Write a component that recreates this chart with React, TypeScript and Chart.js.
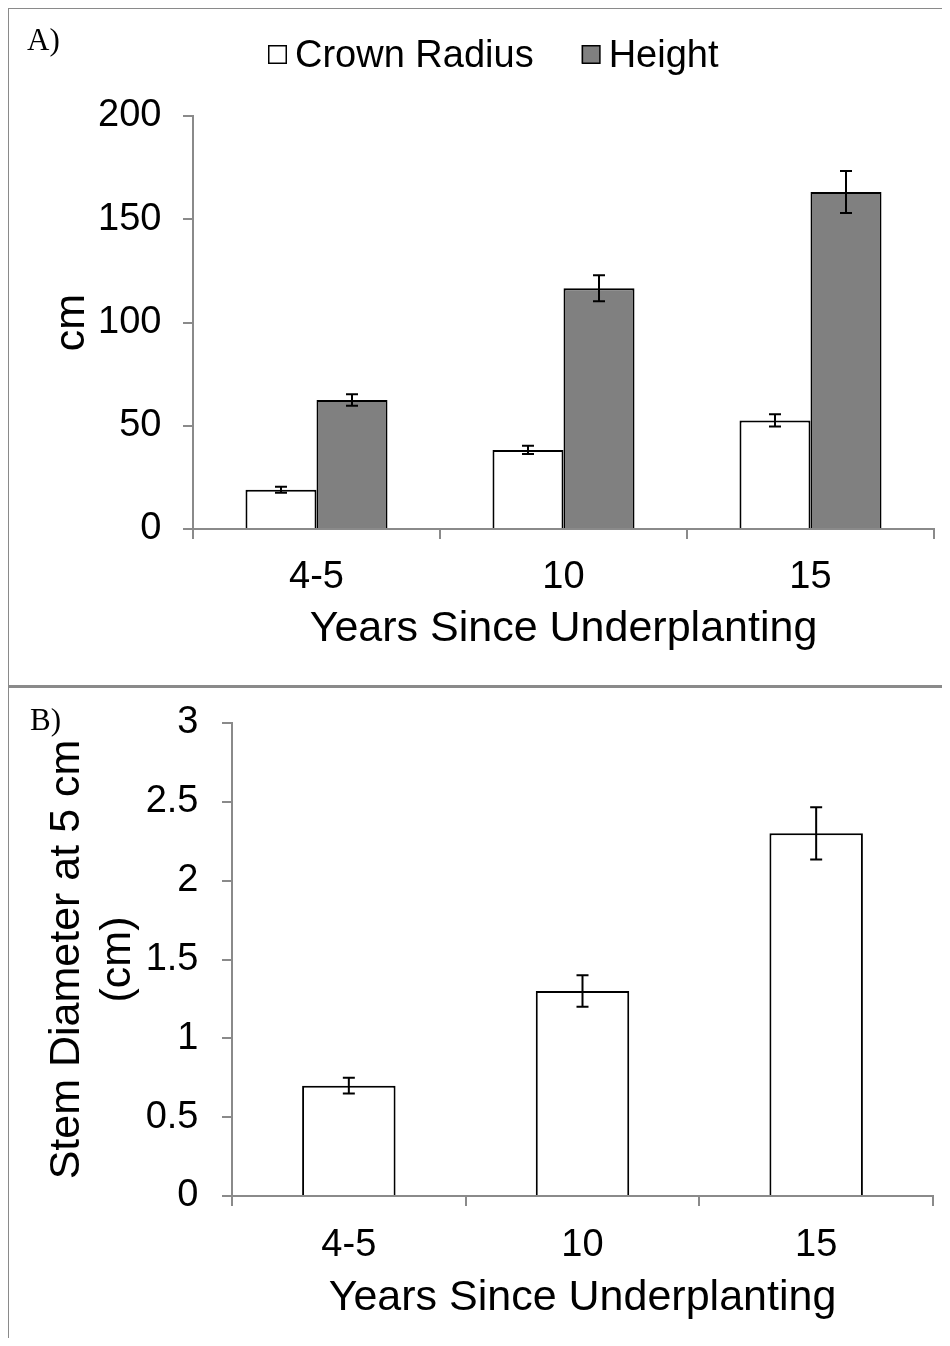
import { useEffect, useRef } from "react";
import { Chart, registerables } from "chart.js";

Chart.register(...registerables);

// Panel A: crown radius and height (cm) by years since underplanting
const YEARS = ["4-5", "10", "15"];
const CROWN_RADIUS = [19, 38.3, 52.6];
const CROWN_RADIUS_SE = [1.5, 2.0, 3.0];
const HEIGHT = [62.5, 116.6, 163.2];
const HEIGHT_SE = [2.8, 6.3, 10.2];
const CM_TICKS = [0, 50, 100, 150, 200];

// Panel B: stem diameter at 5 cm (cm)
const STEM_DIAMETER = [0.7, 1.3, 2.3];
const STEM_DIAMETER_SE = [0.05, 0.1, 0.165];
const DIAMETER_TICKS = [0, 0.5, 1, 1.5, 2, 2.5, 3];

const SANS = "'Liberation Sans', Arial, sans-serif";
const SERIF = "'Liberation Serif', 'Times New Roman', serif";
const AXIS_GREY = "#8a8a8a";
const BAR_GREY = "#808080";
const TICK_FONT = { family: SANS, size: 38 };
const TITLE_FONT = { family: SANS, size: 43 };

// Whiskers of +/- one standard error on every bar
const errorBars = {
  id: "errorBars",
  afterDatasetsDraw(chart: any) {
    const { ctx } = chart;
    const yScale = chart.scales.y;
    chart.data.datasets.forEach((ds: any, di: number) => {
      const meta = chart.getDatasetMeta(di);
      if (!ds.errors || meta.hidden) return;
      meta.data.forEach((bar: any, i: number) => {
        const v = ds.data[i];
        const e = ds.errors[i];
        const top = yScale.getPixelForValue(v + e);
        const bot = yScale.getPixelForValue(v - e);
        ctx.save();
        ctx.strokeStyle = "#000";
        ctx.lineWidth = 2;
        ctx.beginPath();
        ctx.moveTo(bar.x, top);
        ctx.lineTo(bar.x, bot);
        ctx.moveTo(bar.x - 6, top);
        ctx.lineTo(bar.x + 6, top);
        ctx.moveTo(bar.x - 6, bot);
        ctx.lineTo(bar.x + 6, bot);
        ctx.stroke();
        ctx.restore();
      });
    });
  },
};

// Compact legend of square swatches above the plot
const boxLegend = {
  id: "boxLegend",
  afterDraw(chart: any, _args: any, opts: any) {
    if (!opts || opts.x === undefined) return;
    const { ctx } = chart;
    let x = opts.x;
    ctx.save();
    ctx.font = `${TICK_FONT.size}px ${SANS}`;
    ctx.textBaseline = "alphabetic";
    ctx.textAlign = "left";
    chart.data.datasets.forEach((ds: any) => {
      ctx.fillStyle = ds.backgroundColor;
      ctx.fillRect(x, opts.boxTop, 18, 18);
      ctx.strokeStyle = "#000";
      ctx.lineWidth = 1.5;
      ctx.strokeRect(x + 0.75, opts.boxTop + 0.75, 17.5, 17.5);
      ctx.fillStyle = "#000";
      ctx.fillText(ds.label, x + 27, opts.baseline);
      x += 27 + ctx.measureText(ds.label).width + 48;
    });
    ctx.restore();
  },
};

function noAutoPadding(s: any) {
  s.paddingTop = 0;
  s.paddingBottom = 0;
  s.paddingLeft = 0;
  s.paddingRight = 0;
}

function xAxis(height: number, tickPad: number, titlePad: number) {
  return {
    grid: { offset: true, drawOnChartArea: false, drawTicks: true, tickLength: 10, color: AXIS_GREY, lineWidth: 2 },
    border: { display: true, color: AXIS_GREY, width: 2 },
    ticks: { font: TICK_FONT, color: "#000", padding: tickPad, maxRotation: 0 },
    title: {
      display: true,
      text: "Years Since Underplanting",
      font: TITLE_FONT,
      color: "#000",
      padding: { top: 0, bottom: titlePad },
    },
    afterFit: (s: any) => {
      s.height = height;
      noAutoPadding(s);
    },
  };
}

function yAxis(
  min: number,
  max: number,
  values: number[],
  width: number,
  tickPad: number,
  title: string | string[],
  titlePad: number
) {
  return {
    min,
    max,
    afterBuildTicks: (s: any) => {
      s.ticks = values.map((value) => ({ value }));
    },
    grid: { drawOnChartArea: false, drawTicks: true, tickLength: 10, color: AXIS_GREY, lineWidth: 2 },
    border: { display: true, color: AXIS_GREY, width: 2 },
    ticks: {
      font: TICK_FONT,
      color: "#000",
      padding: tickPad,
      callback: (value: number) => String(value),
    },
    title: {
      display: true,
      text: title,
      font: TITLE_FONT,
      color: "#000",
      padding: { top: titlePad, bottom: 0 },
    },
    afterFit: (s: any) => {
      s.width = width;
      noAutoPadding(s);
    },
  };
}

export default function App() {
  const refA = useRef<HTMLCanvasElement>(null);
  const refB = useRef<HTMLCanvasElement>(null);

  useEffect(() => {
    document.documentElement.style.overflow = "hidden";
    const chartA = new Chart(refA.current as HTMLCanvasElement, {
      type: "bar",
      data: {
        labels: YEARS,
        datasets: [
          {
            label: "Crown Radius",
            data: CROWN_RADIUS,
            errors: CROWN_RADIUS_SE,
            backgroundColor: "#ffffff",
            borderColor: "#000000",
            borderWidth: 2,
          } as any,
          {
            label: "Height",
            data: HEIGHT,
            errors: HEIGHT_SE,
            backgroundColor: BAR_GREY,
            borderColor: "#000000",
            borderWidth: 2,
          } as any,
        ],
      },
      options: {
        responsive: false,
        animation: false,
        layout: { padding: { top: 106, right: 16, bottom: 0, left: 0 }, autoPadding: false } as any,
        datasets: { bar: { categoryPercentage: 0.575, barPercentage: 1 } },
        plugins: {
          legend: { display: false },
          tooltip: { enabled: false },
          boxLegend: { x: 258, boxTop: 35, baseline: 57 },
        } as any,
        scales: {
          x: xAxis(156, 15.6, 30.4) as any,
          y: yAxis(0, 200, CM_TICKS, 183, 21.5, "cm", 36) as any,
        },
      },
      plugins: [errorBars, boxLegend],
    });

    const chartB = new Chart(refB.current as HTMLCanvasElement, {
      type: "bar",
      data: {
        labels: YEARS,
        datasets: [
          {
            label: "Stem Diameter",
            data: STEM_DIAMETER,
            errors: STEM_DIAMETER_SE,
            backgroundColor: "#ffffff",
            borderColor: "#000000",
            borderWidth: 2,
          } as any,
        ],
      },
      options: {
        responsive: false,
        animation: false,
        layout: { padding: { top: 35, right: 17, bottom: 0, left: 0 }, autoPadding: false } as any,
        datasets: { bar: { categoryPercentage: 0.4, barPercentage: 1 } },
        plugins: { legend: { display: false }, tooltip: { enabled: false } },
        scales: {
          x: xAxis(150, 16.6, 21.8) as any,
          y: yAxis(0, 3, DIAMETER_TICKS, 222, 23.5, ["Stem Diameter at 5 cm", "(cm)"], 31) as any,
        },
      },
      plugins: [errorBars],
    });

    return () => {
      chartA.destroy();
      chartB.destroy();
    };
  }, []);

  const rule = { position: "absolute" as const, background: AXIS_GREY };
  const panelLabel = {
    position: "absolute" as const,
    fontFamily: SERIF,
    fontSize: "31px",
    lineHeight: "31px",
    color: "#000",
  };

  return (
    <div style={{ position: "relative", height: 1330 }}>
      <div style={{ ...rule, left: -1, top: -1, width: 943, height: 2 }} />
      <div style={{ ...rule, left: -1, top: -1, width: 2, height: 1339 }} />
      <div style={{ ...rule, left: -1, top: 677, width: 943, height: 3 }} />
      <canvas ref={refA} width={940} height={675} style={{ position: "absolute", left: 2, top: 2 }} />
      <canvas ref={refB} width={940} height={658} style={{ position: "absolute", left: 2, top: 680 }} />
      <div style={{ ...panelLabel, left: 19, top: 16 }}>A)</div>
      <div style={{ ...panelLabel, left: 22, top: 696 }}>B)</div>
    </div>
  );
}
